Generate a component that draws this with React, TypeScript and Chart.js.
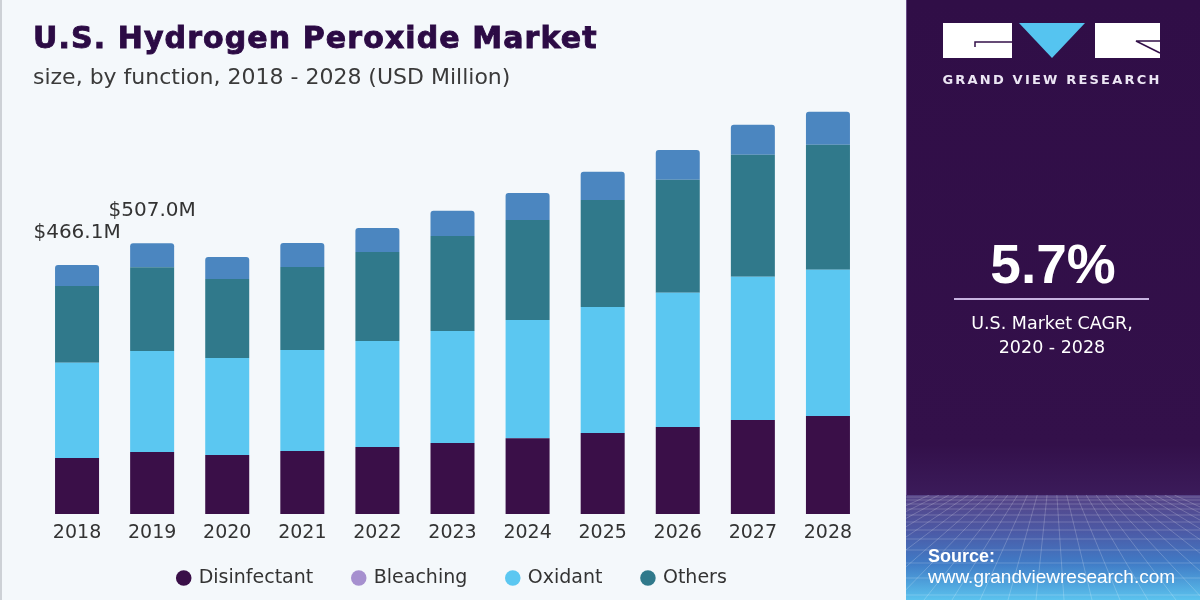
import { useEffect, useRef } from "react";
import { Chart, registerables } from "chart.js";

Chart.register(...registerables);

// Market size by function, USD Million
const years = ["2018", "2019", "2020", "2021", "2022", "2023", "2024", "2025", "2026", "2027", "2028"];
const disinfectant = [105, 116, 110.5, 118, 125.5, 133, 142, 151.5, 163, 176, 183.5];
const oxidant = [178, 189, 181.5, 189, 198.5, 209.5, 221, 236, 251, 268, 273.5];
const others = [144, 157, 148, 155.5, 166.5, 178, 187.5, 200.5, 211.5, 228.5, 234];
const bleaching = [39.1, 45, 41, 45, 45, 47, 50.5, 52.5, 56, 56, 62];

// Years whose stack total is printed above the bar
const labeledYears = ["2018", "2019"];
const legendOrder = ["Disinfectant", "Bleaching", "Oxidant", "Others"];

const barColors: Record<string, string> = {
  Disinfectant: "#3a0f48",
  Oxidant: "#5bc7f1",
  Others: "#30798b",
  Bleaching: "#4b86c0",
};
const legendColors: Record<string, string> = {
  Disinfectant: "#3a0f48",
  Bleaching: "#a690cf",
  Oxidant: "#5bc7f1",
  Others: "#30798b",
};

const FONT = "DejaVu Sans";

const totalLabels = {
  id: "totalLabels",
  afterDatasetsDraw(chart: any) {
    const ctx = chart.ctx;
    const topMeta = chart.getDatasetMeta(chart.data.datasets.length - 1);
    ctx.save();
    ctx.font = `20px "${FONT}"`;
    ctx.fillStyle = "#333333";
    ctx.textAlign = "center";
    ctx.textBaseline = "middle";
    years.forEach((yr, i) => {
      if (!labeledYears.includes(yr)) return;
      const total = disinfectant[i] + oxidant[i] + others[i] + bleaching[i];
      const bar = topMeta.data[i];
      ctx.fillText(`$${total.toFixed(1)}M`, bar.x, bar.y - 32);
    });
    ctx.restore();
  },
};

// The x axis is kept thin so the legend sits close under it; widen its
// label clip box afterwards so the year labels are not cut off.
const axisLabelRoom = {
  id: "axisLabelRoom",
  afterLayout(chart: any) {
    const x = chart.scales.x;
    x.bottom = x.top + 40;
  },
};

function BarChart() {
  const ref = useRef<HTMLCanvasElement | null>(null);
  useEffect(() => {
    if (!ref.current) return;
    const common = { barPercentage: 0.586, categoryPercentage: 1, borderWidth: 0 };
    const chart = new Chart(ref.current, {
      type: "bar",
      data: {
        labels: years,
        datasets: [
          { label: "Disinfectant", data: disinfectant, backgroundColor: barColors.Disinfectant, ...common },
          { label: "Oxidant", data: oxidant, backgroundColor: barColors.Oxidant, ...common },
          { label: "Others", data: others, backgroundColor: barColors.Others, ...common },
          {
            label: "Bleaching",
            data: bleaching,
            backgroundColor: barColors.Bleaching,
            borderRadius: 3,
            borderSkipped: "start",
            ...common,
          },
        ],
      },
      options: {
        animation: false,
        responsive: false,
        devicePixelRatio: 1,
        layout: { padding: { top: 100, left: 39.5, right: 34.5, bottom: 2.5 } },
        scales: {
          x: {
            stacked: true,
            grid: { display: false, drawTicks: false },
            border: { display: false },
            ticks: { color: "#333333", font: { family: FONT, size: 19 }, padding: 8 },
            afterFit: (scale: any) => {
              scale.height = 14.5;
            },
          },
          y: { stacked: true, display: false, min: 0, max: 775 },
        },
        plugins: {
          tooltip: { enabled: false },
          legend: {
            position: "bottom",
            labels: {
              usePointStyle: true,
              pointStyle: "circle",
              boxWidth: 11,
              boxHeight: 11,
              padding: 40,
              color: "#333333",
              font: { family: FONT, size: 19 },
              generateLabels: (c: any) => {
                const items = Chart.defaults.plugins.legend.labels.generateLabels(c);
                items.forEach((it: any) => {
                  const col = legendColors[it.text];
                  it.fillStyle = col;
                  it.strokeStyle = col;
                  it.lineWidth = 0;
                });
                return items.sort(
                  (a: any, b: any) => legendOrder.indexOf(a.text) - legendOrder.indexOf(b.text)
                );
              },
            },
          },
        },
      },
      plugins: [totalLabels, axisLabelRoom],
    } as any);
    return () => chart.destroy();
  }, []);
  return (
    <canvas
      ref={ref}
      width={900}
      height={600}
      style={{ position: "absolute", left: 0, top: 0, width: 900, height: 600 }}
    />
  );
}

// Perspective grid decoration at the foot of the side panel
function PanelGrid() {
  const hLines = [497, 500, 504, 509, 515, 522, 530, 539, 550, 563, 578, 595];
  const vx = 1053;
  const feet = [];
  for (let x = 700; x <= 1420; x += 28) feet.push(x);
  return (
    <g clipPath="url(#gridClip)" stroke="#ffffff" strokeOpacity={0.2} strokeWidth={1}>
      {hLines.map((y) => (
        <line key={"h" + y} x1={906} x2={1200} y1={y} y2={y} />
      ))}
      {feet.map((x) => (
        <line key={"v" + x} x1={vx + (x - vx) * 0.35} y1={495} x2={x} y2={600} />
      ))}
    </g>
  );
}

export default function App() {
  return (
    <div
      style={{
        position: "fixed",
        left: 0,
        top: 0,
        width: 1200,
        height: 600,
        background: "#f4f8fb",
        overflow: "hidden",
      }}
    >
      <BarChart />
      <svg
        width={1200}
        height={600}
        style={{ position: "absolute", left: 0, top: 0, pointerEvents: "none" }}
      >
        <defs>
          <linearGradient id="panelFill" x1="0" y1="0" x2="0" y2="1">
            <stop offset="0" stopColor="#300e47" />
            <stop offset="0.74" stopColor="#33104a" />
            <stop offset="0.825" stopColor="#3b1b5a" />
          </linearGradient>
          <linearGradient id="gridFill" x1="0" y1="0" x2="0" y2="1">
            <stop offset="0" stopColor="#554285" />
            <stop offset="0.35" stopColor="#4c5aa6" />
            <stop offset="0.65" stopColor="#407bc6" />
            <stop offset="1" stopColor="#5bc3ee" />
          </linearGradient>
          <clipPath id="gridClip">
            <rect x={906} y={495} width={294} height={105} />
          </clipPath>
        </defs>

        <rect x={0} y={0} width={2} height={600} fill="#cdd1d6" />

        <text
          x={33}
          y={48}
          fontFamily={FONT}
          fontWeight="bold"
          fontSize={30}
          letterSpacing={1.1}
          fill="#2c0b45"
          stroke="#2c0b45"
          strokeWidth={0.9}
        >
          U.S. Hydrogen Peroxide Market
        </text>
        <text x={33} y={84} fontFamily={FONT} fontSize={22} fill="#3a3a3a">
          size, by function, 2018 - 2028 (USD Million)
        </text>

        <rect x={906} y={0} width={294} height={600} fill="url(#panelFill)" />
        <rect x={906} y={0} width={1} height={600} fill="#8d74b0" opacity={0.6} />
        <rect x={906} y={495} width={294} height={105} fill="url(#gridFill)" />
        <PanelGrid />

        <rect x={943} y={23} width={69} height={35} fill="#ffffff" />
        <path d="M975 47 L975 42 L1012 42" stroke="#33104a" strokeWidth={1.5} fill="none" />
        <polygon points="1019,23 1085,23 1052,58" fill="#55c4f0" />
        <rect x={1095} y={23} width={65} height={35} fill="#ffffff" />
        <path d="M1160 41 L1136 41 L1160 53" stroke="#33104a" strokeWidth={1.5} fill="none" />
        <text
          x={1052}
          y={84}
          textAnchor="middle"
          fontFamily={FONT}
          fontWeight="bold"
          fontSize={13}
          letterSpacing={2.2}
          fill="#ece6f4"
        >
          GRAND VIEW RESEARCH
        </text>

        <text
          x={1053}
          y={283}
          textAnchor="middle"
          fontFamily="Liberation Sans"
          fontWeight="bold"
          fontSize={55}
          fill="#ffffff"
        >
          5.7%
        </text>
        <rect x={954} y={298} width={195} height={2} fill="#c7b3e0" />
        <text x={1052} y={328.5} textAnchor="middle" fontFamily={FONT} fontSize={17.5} fill="#ffffff">
          U.S. Market CAGR,
        </text>
        <text x={1052} y={353} textAnchor="middle" fontFamily={FONT} fontSize={17.5} fill="#ffffff">
          2020 - 2028
        </text>

        <text x={928} y={561.5} fontFamily="Liberation Sans" fontWeight="bold" fontSize={18} fill="#ffffff">
          Source:
        </text>
        <text x={928} y={583} fontFamily="Liberation Sans" fontSize={19} fill="#ffffff">
          www.grandviewresearch.com
        </text>
      </svg>
    </div>
  );
}
